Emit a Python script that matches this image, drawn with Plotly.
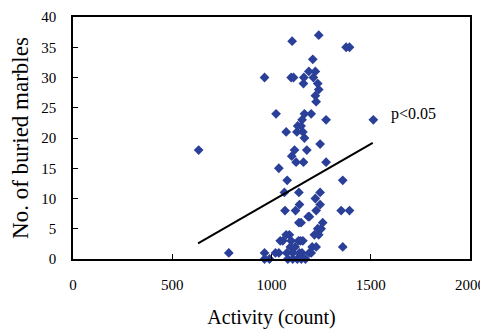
import plotly.graph_objects as go

activity = [633, 785, 965, 965, 965, 990, 1023, 1037, 1020, 1037, 1065, 1068, 1044, 1057, 1074,
            1074, 1079, 1077, 1082, 1090, 1099, 1104, 1099, 1111, 1102, 1116, 1121, 1119, 1107,
            1107, 1124, 1128, 1132, 1138, 1141, 1136, 1146, 1141, 1149, 1154, 1161, 1163, 1158,
            1166, 1166, 1161, 1149, 1138, 1158, 1154, 1171, 1178, 1188, 1191, 1200, 1200, 1208,
            1211, 1205, 1216, 1221, 1221, 1225, 1221, 1225, 1233, 1238, 1238, 1245, 1245, 1245,
            1250, 1238, 1258, 1275, 1275, 1225, 1233, 1359, 1351, 1393, 1359, 1376, 1393, 1513,
            1130, 1150, 1095, 1185, 1190]
marbles = [18, 1, 30, 1, 0, 0, 24, 15, 1, 1, 11, 8, 3, 3, 4,
           21, 13, 1, 0, 4, 3, 36, 30, 30, 17, 18, 8, 2, 1,
           0, 16, 21, 22, 11, 9, 3, 3, 1, 22, 23, 29, 30, 21,
           20, 24, 16, 6, 6, 3, 1, 0, 18, 31, 7, 24, 1, 33,
           30, 2, 4, 31, 27, 26, 10, 8, 29, 28, 37, 19, 11, 9,
           5, 4, 6, 23, 16, 2, 5, 13, 8, 8, 2, 35, 35, 23,
           0, 0, 2, 7, 1]

fit_x = [630, 1510]
fit_y = [2.6, 19.2]

fig = go.Figure()
fig.add_trace(go.Scatter(x=activity, y=marbles, mode="markers",
                         marker=dict(symbol="diamond", size=7.5, color="#2a3f98"),
                         showlegend=False, cliponaxis=False))
fig.add_trace(go.Scatter(x=fit_x, y=fit_y, mode="lines",
                         line=dict(color="black", width=2), showlegend=False))

fig.add_annotation(x=1590, y=24, text="p<0.05", showarrow=False, xanchor="left",
                   font=dict(family="Liberation Serif", size=16, color="black"))

font_family = "Liberation Serif"
fig.update_layout(
    width=480, height=321,
    margin=dict(l=65, r=18, t=9, b=70),
    paper_bgcolor="white", plot_bgcolor="white",
    font=dict(family=font_family, color="black", size=15),
    xaxis=dict(range=[0, 2000], tickvals=[0, 500, 1000, 1500, 2000], automargin=False,
               showgrid=False, zeroline=False, showline=True, linecolor="black",
               linewidth=1.5, mirror=True, ticks="inside", ticklen=5, tickcolor="black",
               ticklabelstandoff=11, tickfont=dict(size=15),
               title=dict(text="Activity (count)", font=dict(size=20), standoff=19)),
    yaxis=dict(range=[0, 40], tickvals=[0, 5, 10, 15, 20, 25, 30, 35, 40], automargin=False,
               showgrid=False, zeroline=False, showline=True, linecolor="black",
               linewidth=1.5, mirror=True, ticks="inside", ticklen=5, tickcolor="black",
               ticklabelstandoff=12, tickfont=dict(size=15),
               title=dict(text="No. of buried marbles", font=dict(size=23), standoff=14)),
)

fig.write_html("out.html")
